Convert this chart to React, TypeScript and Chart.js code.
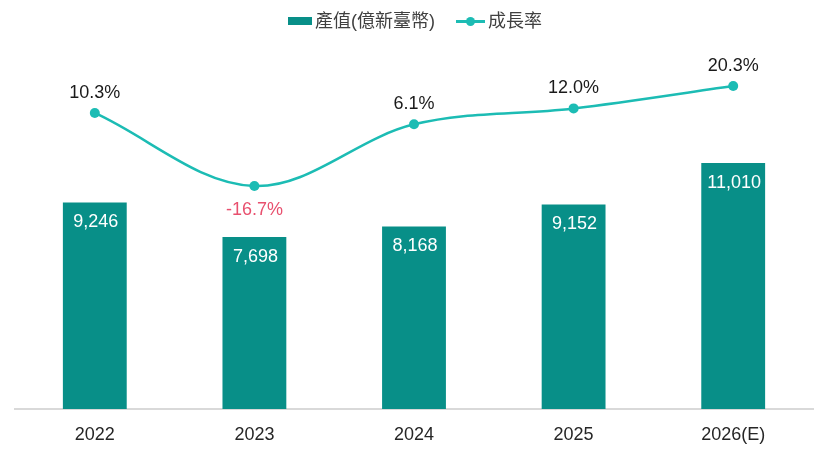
import { useEffect, useRef } from "react"
import { Chart, registerables } from "chart.js"

Chart.register(...registerables)

const years = ["2022", "2023", "2024", "2025", "2026(E)"]
const output = [9246, 7698, 8168, 9152, 11010]
const growth = [10.3, -16.7, 6.1, 12.0, 20.3]

const BAR_COLOR = "#088f88"
const LINE_COLOR = "#1cbcb4"
const NEG_COLOR = "#e8506e"
const FONT = "'Liberation Sans', Arial, 'Noto Sans CJK TC', sans-serif"

// draws values on bars and above/below points
const valueLabels = {
  id: "valueLabels",
  afterDatasetsDraw(chart: any) {
    const ctx = chart.ctx
    ctx.save()
    ctx.font = `18px ${FONT}`
    ctx.textAlign = "center"
    ctx.textBaseline = "middle"

    chart.getDatasetMeta(0).data.forEach((bar: any, i: number) => {
      ctx.fillStyle = "#ffffff"
      ctx.fillText(output[i].toLocaleString("en-US"), bar.x + 1, bar.y + 20)
    })

    chart.getDatasetMeta(1).data.forEach((pt: any, i: number) => {
      const v = growth[i]
      const text = v.toFixed(1) + "%"
      if (v < 0) {
        ctx.fillStyle = NEG_COLOR
        ctx.fillText(text, pt.x, pt.y + 24)
      } else {
        ctx.fillStyle = "#1a1a1a"
        ctx.fillText(text, pt.x, pt.y - 20)
      }
    })
    ctx.restore()
  },
}

export default function App() {
  const canvasRef = useRef<HTMLCanvasElement>(null)

  useEffect(() => {
    document.body.style.margin = "0"
    if (!canvasRef.current) return

    const chart = new Chart(canvasRef.current, {
      type: "bar",
      data: {
        labels: years,
        datasets: [
          {
            type: "bar",
            label: "產值(億新臺幣)",
            data: output,
            backgroundColor: BAR_COLOR,
            barPercentage: 0.4,
            categoryPercentage: 1,
            yAxisID: "y",
            order: 1,
          },
          {
            type: "line",
            label: "成長率",
            data: growth,
            borderColor: LINE_COLOR,
            backgroundColor: LINE_COLOR,
            borderWidth: 2.5,
            pointRadius: 5,
            pointBackgroundColor: LINE_COLOR,
            pointBorderWidth: 0,
            tension: 0.35,
            yAxisID: "y1",
            order: 0,
          },
        ],
      },
      options: {
        responsive: false,
        animation: false,
        layout: { padding: { top: 60, left: 15, right: 14, bottom: 5 } },
        plugins: {
          legend: { display: false },
          tooltip: { enabled: false },
        },
        scales: {
          x: {
            grid: { display: false, drawTicks: false },
            border: { color: "#d9d9d9", width: 2 },
            ticks: { color: "#262626", padding: 15, font: { size: 18, family: FONT } },
            afterFit: (axis: any) => {
              axis.height = 37
            },
          },
          y: { display: false, min: 0, max: 15620 },
          y1: { display: false, min: -99.2, max: 29.9 },
        },
      },
      plugins: [valueLabels],
    })

    return () => chart.destroy()
  }, [])

  return (
    <div style={{ position: "relative", width: 827, height: 451, fontFamily: FONT }}>
      <canvas ref={canvasRef} width={827} height={451} style={{ position: "absolute", left: 0, top: 0 }} />
      <div
        style={{
          position: "absolute",
          top: 12,
          left: 0,
          width: 827,
          height: 18,
          paddingLeft: 3,
          boxSizing: "border-box",
          display: "flex",
          justifyContent: "center",
          alignItems: "center",
          fontSize: 18,
          lineHeight: "18px",
          color: "#404040",
        }}
      >
        <span style={{ width: 24, height: 8, background: BAR_COLOR, marginRight: 3 }} />
        <span>產值(億新臺幣)</span>
        <span style={{ position: "relative", width: 29, height: 10, marginLeft: 21, marginRight: 3 }}>
          <span style={{ position: "absolute", left: 0, top: 4, width: 29, height: 2.5, background: LINE_COLOR }} />
          <span
            style={{
              position: "absolute",
              left: 10,
              top: 1,
              width: 9,
              height: 9,
              borderRadius: "50%",
              background: LINE_COLOR,
            }}
          />
        </span>
        <span>成長率</span>
      </div>
    </div>
  )
}
